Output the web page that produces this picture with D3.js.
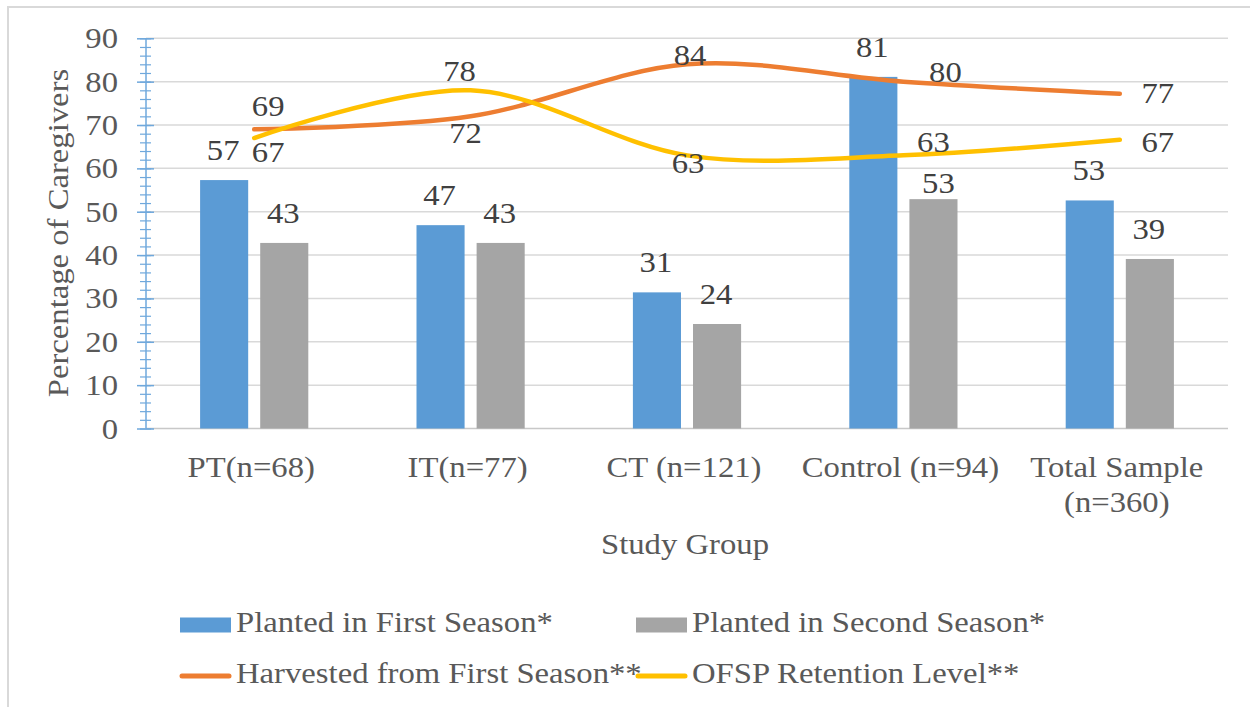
<!DOCTYPE html>
<html>
<head>
<meta charset="utf-8">
<script src="https://cdn.jsdelivr.net/npm/d3@7"></script>
<style>
  body { margin: 0; background: #fff; }
</style>
</head>
<body>
<script>
// chart values
const categories = [["PT(n=68)"], ["IT(n=77)"], ["CT (n=121)"], ["Control (n=94)"], ["Total Sample", "(n=360)"]];
const plantedFirst = [57.3, 46.9, 31.4, 81.1, 52.6];
const plantedSecond = [42.8, 42.8, 24.1, 52.9, 39.1];
const harvested = [69, 72, 84, 80, 77.2];
const retention = [67, 78, 63, 63, 66.6];
const yTicks = [0, 10, 20, 30, 40, 50, 60, 70, 80, 90];

// manual label nudges (dx, dy from the point), like the hand-placed labels in the original
const harvestedOffsets = [[14, -13], [-5, 27], [3, 1], [42, 0], [38, 9]];
const retentionOffsets = [[14, 24], [-11, -9], [1, 18], [30, -3], [38, 12]];
const secondBarOffsets = [[0, -20], [0, -20], [0, -20], [6, -6], [0, -20]];

let width = 1250, height = 707;
let plotLeft = 146, plotRight = 1228, plotTop = 38.3, plotBottom = 428.5;
let fontSize = 30, sx = 1.09;
let fontFamily = "'Liberation Serif', 'Times New Roman', 'DejaVu Serif', serif";

let svg = d3.select("body").append("svg")
  .attr("width", width)
  .attr("height", height);

// outer frame (runs off the right/bottom edge)
svg.append("rect")
  .attr("x", 8).attr("y", 7)
  .attr("width", 1400).attr("height", 900)
  .attr("fill", "none")
  .attr("stroke", "#d9d9d9")
  .attr("stroke-width", 2);

let y = d3.scaleLinear().domain([0, 90]).range([plotBottom, plotTop]);

let x0 = d3.scaleBand()
  .domain(d3.range(categories.length))
  .range([plotLeft, plotRight])
  .paddingInner(0.5)
  .paddingOuter(0.25);

let series = ["first", "second"];
let x1 = d3.scaleBand()
  .domain(series)
  .range([0, x0.bandwidth()])
  .paddingInner(0.2);

function centre(i) { return x0(i) + x0.bandwidth() / 2; }

// text helper, stretched slightly wider
function txt(g, x, y, s, anchor, color, rot) {
  return g.append("text")
    .attr("transform", "translate(" + x + "," + y + ")" + (rot ? " rotate(" + rot + ")" : "") + " scale(" + sx + ",1)")
    .attr("text-anchor", anchor || "middle")
    .attr("fill", color || "#595959")
    .style("font-family", fontFamily)
    .style("font-size", fontSize + "px")
    .text(s);
}

// gridlines
svg.append("g").selectAll("line")
  .data(yTicks)
  .enter().append("line")
  .attr("x1", plotLeft).attr("x2", plotRight)
  .attr("y1", d => y(d)).attr("y2", d => y(d))
  .attr("stroke", d => d === 0 ? "#c8c8c8" : "#d9d9d9")
  .attr("stroke-width", 1.5);

// y axis with blue major + minor ticks
let yAxisMinor = d3.axisLeft(y).tickValues(d3.range(0, 91, 2)).tickSize(6).tickFormat("");
let gMinor = svg.append("g").attr("transform", "translate(" + plotLeft + ",0)").call(yAxisMinor);
gMinor.select(".domain").remove();
gMinor.selectAll(".tick line").attr("x2", -6).attr("x1", 5).attr("stroke", "#6fa8dc").attr("stroke-width", 1.2);

let yAxisMajor = d3.axisLeft(y).tickValues(yTicks).tickSize(9).tickFormat("");
let gMajor = svg.append("g").attr("transform", "translate(" + plotLeft + ",0)").call(yAxisMajor);
gMajor.select(".domain").remove();
gMajor.selectAll(".tick line").attr("x2", -9).attr("x1", 8).attr("stroke", "#6fa8dc").attr("stroke-width", 1.5);

svg.append("line")
  .attr("x1", plotLeft).attr("x2", plotLeft)
  .attr("y1", plotTop).attr("y2", plotBottom)
  .attr("stroke", "#6fa8dc")
  .attr("stroke-width", 1.5);

// y tick labels
yTicks.forEach(function (t) {
  txt(svg, 118, y(t) + 10, t, "end");
});

// axis titles
txt(svg, 68, 233, "Percentage of Caregivers", "middle", "#595959", -90);
txt(svg, centre(2) - 2, 554, "Study Group", "middle");

// category labels
categories.forEach(function (lines, i) {
  lines.forEach(function (l, j) {
    txt(svg, centre(i) - 3, 477 + j * 35, l, "middle");
  });
});

// bars
let barColors = { first: "#5b9bd5", second: "#a5a5a5" };
let barData = [];
categories.forEach(function (c, i) {
  barData.push({ i: i, key: "first", v: plantedFirst[i], off: [0, -20] });
  barData.push({ i: i, key: "second", v: plantedSecond[i], off: secondBarOffsets[i] });
});

svg.append("g").selectAll("rect")
  .data(barData)
  .enter().append("rect")
  .attr("x", d => x0(d.i) + x1(d.key))
  .attr("y", d => y(d.v))
  .attr("width", x1.bandwidth())
  .attr("height", d => y(0) - y(d.v))
  .attr("fill", d => barColors[d.key]);

// smooth lines (excel style smoothing)
let line = d3.line()
  .x((d, i) => centre(i))
  .y(d => y(d))
  .curve(d3.curveCatmullRom.alpha(0));

svg.append("path")
  .attr("d", line(harvested))
  .attr("fill", "none")
  .attr("stroke", "#ed7d31")
  .attr("stroke-width", 4.5)
  .attr("stroke-linecap", "round");

svg.append("path")
  .attr("d", line(retention))
  .attr("fill", "none")
  .attr("stroke", "#ffc000")
  .attr("stroke-width", 4.5)
  .attr("stroke-linecap", "round");

// data labels
barData.forEach(function (d) {
  txt(svg, x0(d.i) + x1(d.key) + x1.bandwidth() / 2 - 1 + d.off[0], y(d.v) + d.off[1], Math.round(d.v), "middle", "#404040");
});
harvested.forEach(function (v, i) {
  txt(svg, centre(i) + harvestedOffsets[i][0], y(v) + harvestedOffsets[i][1], Math.round(v), "middle", "#404040");
});
retention.forEach(function (v, i) {
  txt(svg, centre(i) + retentionOffsets[i][0], y(v) + retentionOffsets[i][1], Math.round(v), "middle", "#404040");
});

// legend
let legend = [
  { name: "Planted in First Season*", color: "#5b9bd5", type: "rect", x: 180, y: 625 },
  { name: "Planted in Second Season*", color: "#a5a5a5", type: "rect", x: 636, y: 625 },
  { name: "Harvested from First Season**", color: "#ed7d31", type: "line", x: 180, y: 676 },
  { name: "OFSP Retention Level**", color: "#ffc000", type: "line", x: 636, y: 676 }
];

legend.forEach(function (d) {
  if (d.type === "rect") {
    svg.append("rect")
      .attr("x", d.x).attr("y", d.y - 7.5)
      .attr("width", 51).attr("height", 15)
      .attr("fill", d.color);
  } else {
    svg.append("line")
      .attr("x1", d.x + 2).attr("x2", d.x + 49)
      .attr("y1", d.y).attr("y2", d.y)
      .attr("stroke", d.color)
      .attr("stroke-width", 5)
      .attr("stroke-linecap", "round");
  }
  txt(svg, d.x + 56, d.y + 7, d.name, "start");
});
</script>
</body>
</html>
